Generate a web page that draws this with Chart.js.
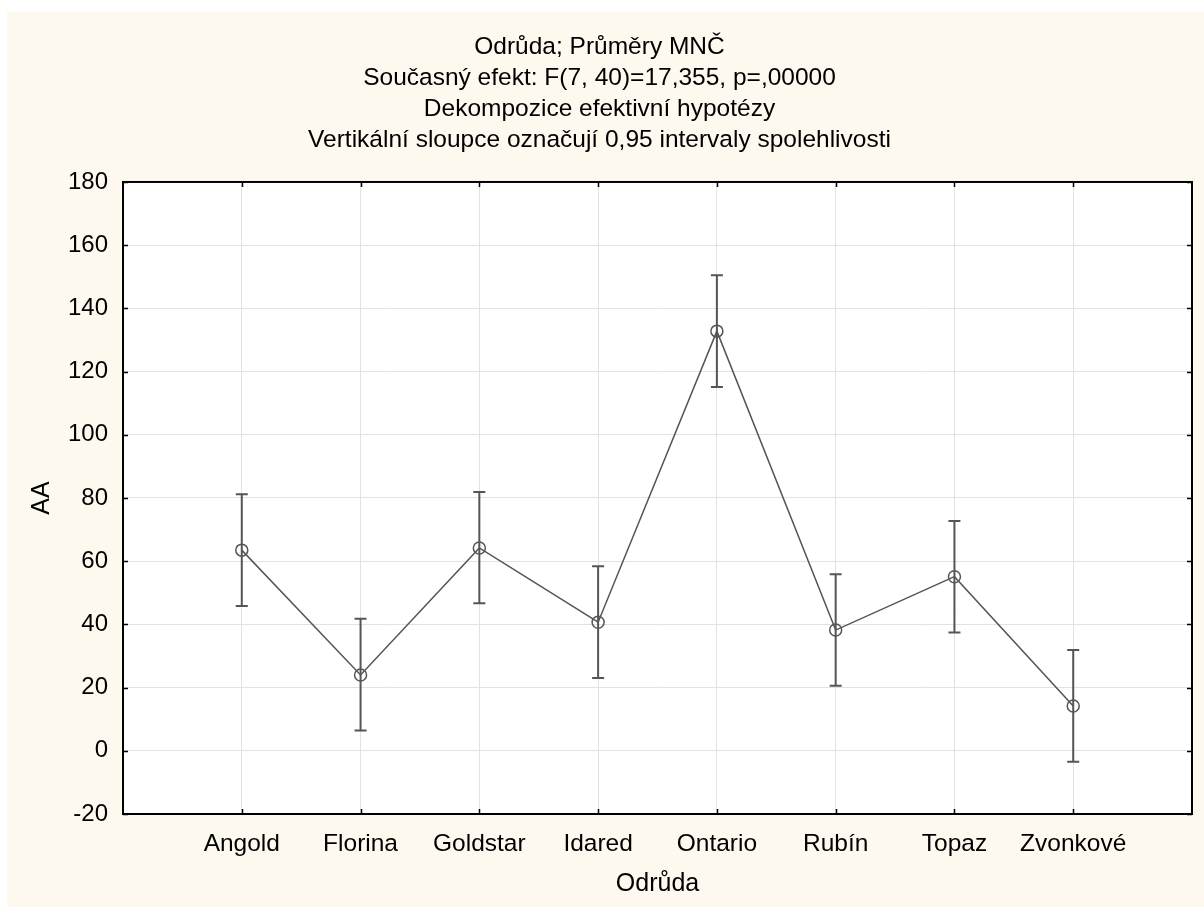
<!DOCTYPE html>
<html>
<head>
<meta charset="utf-8">
<script src="https://cdn.jsdelivr.net/npm/chart.js@4"></script>
<style>
    body { margin: 0; background: #fff; }
    #wrap { position: absolute; left: 7px; top: 12px; width: 1197px; height: 895px; background: #fdf9ef; }
</style>
</head>
<body>
<div id="wrap"><canvas id="lineChart"></canvas></div>
<script>
// Odrůdy (kategorie)
const categories = ['Angold', 'Florina', 'Goldstar', 'Idared', 'Ontario', 'Rubín', 'Topaz', 'Zvonkové'];
// Průměry MNČ
const means = [63.5, 24.0, 64.2, 40.7, 132.8, 38.2, 55.1, 14.2];
// 0,95 intervaly spolehlivosti
const ciLower = [45.8, 6.4, 46.7, 23.0, 115.1, 20.6, 37.4, -3.5];
const ciUpper = [81.2, 41.8, 81.9, 58.4, 150.5, 55.9, 72.7, 31.9];
// osa y
const yMin = -20;
const yMax = 180;
const yStep = 20;

const titleLines = [
    'Odrůda; Průměry MNČ',
    'Současný efekt: F(7, 40)=17,355, p=,00000',
    'Dekompozice efektivní hypotézy',
    'Vertikální sloupce označují 0,95 intervaly spolehlivosti'
];

const FONT = '"Liberation Sans", Arial, sans-serif';
const INK = '#555555';

// bílá plocha grafu, rámeček a ticky dovnitř
const framePlugin = {
    id: 'frame',
    beforeDraw(chart) {
        const { ctx, chartArea: a } = chart;
        ctx.save();
        ctx.fillStyle = '#ffffff';
        ctx.fillRect(a.left, a.top, a.width, a.height);
        ctx.restore();
    },
    afterDraw(chart) {
        const { ctx, chartArea: a, scales } = chart;
        const len = 5;
        ctx.save();
        ctx.strokeStyle = '#000';
        ctx.lineWidth = 2;
        ctx.strokeRect(a.left, a.top, a.width, a.height);
        ctx.lineWidth = 1.5;
        ctx.beginPath();
        scales.y.ticks.forEach(t => {
            const y = Math.round(scales.y.getPixelForValue(t.value)) + 0.5;
            ctx.moveTo(a.left, y); ctx.lineTo(a.left + len, y);
            ctx.moveTo(a.right, y); ctx.lineTo(a.right - len, y);
        });
        scales.x.ticks.forEach(t => {
            const x = Math.round(scales.x.getPixelForValue(t.value)) + 0.5;
            ctx.moveTo(x, a.bottom); ctx.lineTo(x, a.bottom - len);
            ctx.moveTo(x, a.top); ctx.lineTo(x, a.top + len);
        });
        ctx.stroke();
        ctx.restore();
    }
};

// svislé sloupce intervalů spolehlivosti
const errorBarPlugin = {
    id: 'errorBars',
    afterDatasetsDraw(chart) {
        const { ctx, scales } = chart;
        const cap = 6;
        ctx.save();
        ctx.strokeStyle = INK;
        ctx.lineWidth = 2;
        ctx.beginPath();
        categories.forEach((c, i) => {
            const x = scales.x.getPixelForValue(i + 1);
            const yl = scales.y.getPixelForValue(ciLower[i]);
            const yu = scales.y.getPixelForValue(ciUpper[i]);
            ctx.moveTo(x, yl); ctx.lineTo(x, yu);
            ctx.moveTo(x - cap, yl); ctx.lineTo(x + cap, yl);
            ctx.moveTo(x - cap, yu); ctx.lineTo(x + cap, yu);
        });
        ctx.stroke();
        ctx.restore();
    }
};

document.addEventListener('DOMContentLoaded', function () {
    const ctx = document.getElementById('lineChart').getContext('2d');
    new Chart(ctx, {
        type: 'line',
        data: {
            datasets: [{
                label: 'AA',
                data: means.map((m, i) => ({ x: i + 1, y: m })),
                borderColor: INK,
                borderWidth: 1.5,
                pointRadius: 6,
                pointBorderWidth: 1.5,
                pointBorderColor: INK,
                pointBackgroundColor: 'rgba(0,0,0,0)',
                tension: 0
            }]
        },
        options: {
            responsive: true,
            maintainAspectRatio: false,
            animation: false,
            layout: { padding: { top: 0, right: 12, bottom: 0, left: 0 } },
            plugins: {
                legend: { display: false },
                tooltip: { enabled: false },
                title: {
                    display: true,
                    text: titleLines,
                    color: '#000',
                    font: { family: FONT, size: 24.5, weight: 'normal', lineHeight: 1.265 },
                    padding: { top: 19.5, bottom: 26.5 }
                }
            },
            scales: {
                x: {
                    type: 'linear',
                    min: 0,
                    max: categories.length + 1,
                    afterBuildTicks: (scale) => {
                        scale.ticks = categories.map((c, i) => ({ value: i + 1 }));
                    },
                    afterFit: (scale) => { scale.height = 93; },
                    ticks: {
                        autoSkip: false,
                        maxRotation: 0,
                        padding: 16,
                        color: '#000',
                        font: { family: FONT, size: 24.5 },
                        callback: (v) => categories[v - 1]
                    },
                    grid: { color: '#e2e2e2', lineWidth: 1, drawTicks: false },
                    border: { display: false },
                    title: {
                        display: true,
                        text: 'Odrůda',
                        color: '#000',
                        font: { family: FONT, size: 25 },
                        padding: { top: 0, bottom: 8 }
                    }
                },
                y: {
                    min: yMin,
                    max: yMax,
                    afterFit: (scale) => { scale.width = 116; },
                    ticks: {
                        stepSize: yStep,
                        padding: 15,
                        color: '#000',
                        font: { family: FONT, size: 24 }
                    },
                    grid: { color: '#e2e2e2', lineWidth: 1, drawTicks: false },
                    border: { display: false },
                    title: {
                        display: true,
                        text: 'AA',
                        color: '#000',
                        font: { family: FONT, size: 25 },
                        padding: { top: 20, bottom: 0 }
                    }
                }
            }
        },
        plugins: [framePlugin, errorBarPlugin]
    });
});
</script>
</body>
</html>
